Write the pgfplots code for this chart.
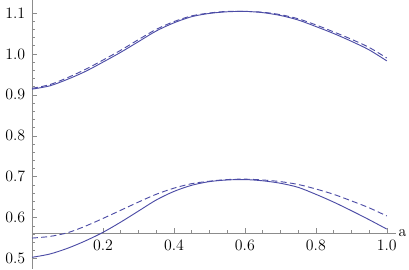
\documentclass[border=0pt]{standalone}
\usepackage{pgfplots}
\pgfplotsset{compat=1.18}
\definecolor{mmablue}{rgb}{0.3,0.3,0.65}
\definecolor{axgray}{gray}{0.55}

\begin{document}
\fontsize{12}{14}\selectfont
\begin{tikzpicture}
\begin{axis}[
    scale only axis,
    width=275pt, height=203pt,
    xmin=0, xmax=1.025,
    ymin=0.475, ymax=1.131,
    axis x line=bottom,
    axis y line=left,
    axis x line shift=-27.1pt,
    axis line style={draw=axgray, -, line width=0.5pt},
    tick style={draw=axgray, line width=0.4pt},
    tick align=inside,
    major tick length=3.5pt,
    minor tick length=2pt,
    xtick={0.2,0.4,0.6,0.8,1.0},
    ytick={0.5,0.6,0.7,0.8,0.9,1.0,1.1},
    minor x tick num=3,
    minor y tick num=4,
    /pgf/number format/.cd, fixed, fixed zerofill, precision=1,
    /pgfplots/.cd,
    tick label style={font=\fontsize{12}{14}\selectfont, black},
    xticklabel style={yshift=-1pt},
    yticklabel style={xshift=-1pt},
    clip=false,
]
\addplot[mmablue, line width=0.7pt, smooth] coordinates {
(0,0.914) (0.05,0.922) (0.1,0.938) (0.15,0.957) (0.2,0.980) (0.25,1.004)
(0.3,1.030) (0.35,1.056) (0.4,1.076) (0.45,1.091) (0.5,1.099) (0.55,1.103)
(0.6,1.104) (0.65,1.101) (0.7,1.094) (0.75,1.083) (0.8,1.067) (0.85,1.050)
(0.9,1.031) (0.95,1.010) (1.0,0.983)
};
\addplot[mmablue, line width=0.7pt, smooth, dash pattern=on 4.5pt off 2.5pt] coordinates {
(0,0.916) (0.05,0.925) (0.1,0.942) (0.15,0.962) (0.2,0.985) (0.25,1.009)
(0.3,1.035) (0.35,1.060) (0.4,1.079) (0.45,1.093) (0.5,1.100) (0.55,1.104)
(0.6,1.104) (0.65,1.102) (0.7,1.096) (0.75,1.086) (0.8,1.071) (0.85,1.054)
(0.9,1.036) (0.95,1.016) (1.0,0.990)
};
\addplot[mmablue, line width=0.7pt, smooth] coordinates {
(0,0.503) (0.05,0.511) (0.1,0.525) (0.15,0.543) (0.2,0.564) (0.25,0.589)
(0.3,0.616) (0.35,0.643) (0.4,0.664) (0.45,0.679) (0.5,0.688) (0.55,0.692)
(0.6,0.693) (0.65,0.690) (0.7,0.684) (0.75,0.674) (0.8,0.657) (0.85,0.638)
(0.9,0.617) (0.95,0.595) (1.0,0.572)
};
\addplot[mmablue, line width=0.7pt, smooth, dash pattern=on 4.5pt off 2.5pt] coordinates {
(0,0.550) (0.05,0.554) (0.1,0.563) (0.15,0.579) (0.2,0.598) (0.25,0.618)
(0.3,0.638) (0.35,0.657) (0.4,0.672) (0.45,0.683) (0.5,0.689) (0.55,0.693)
(0.6,0.694) (0.65,0.692) (0.7,0.688) (0.75,0.681) (0.8,0.670) (0.85,0.657)
(0.9,0.641) (0.95,0.624) (1.0,0.604)
};
\node[anchor=west, inner sep=2pt, font=\fontsize{12}{14}\selectfont] at (axis cs:1.025,0.5625) {a};
\end{axis}
\end{tikzpicture}
\end{document}
